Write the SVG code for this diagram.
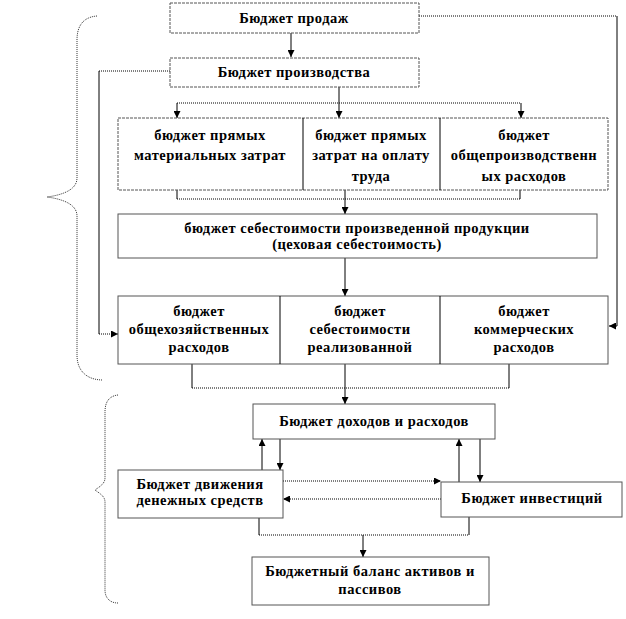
<svg xmlns="http://www.w3.org/2000/svg" width="626" height="619" viewBox="0 0 626 619">
<defs>
<marker id="ah" viewBox="0 0 8 8" refX="8" refY="4" markerWidth="7" markerHeight="7" orient="auto" markerUnits="userSpaceOnUse">
<path d="M0,0 L8,4 L0,8 z" fill="#000"/>
</marker>
<style>
.box{fill:#fff;stroke:#555;stroke-width:1}
.dash{stroke-dasharray:3,1}
.t{font-family:"Liberation Serif","Times New Roman",serif;font-weight:bold;font-size:14.5px;letter-spacing:0.5px;fill:#000;text-anchor:middle}
.c{fill:none;stroke:#000;stroke-width:1}
.d{fill:none;stroke:#000;stroke-width:1;stroke-dasharray:1,1}
.a{marker-end:url(#ah)}
.br{fill:none;stroke:#333;stroke-width:1;stroke-dasharray:1,1}
</style>
</defs>
<rect width="626" height="619" fill="#fff"/>
<g id="braces">
<path class="br" d="M97,16 C84,17 77,25 77,40 L77,178 C77,190 62,195 47,197 C62,199 77,204 77,216 L77,355 C77,372 88,380 103,380"/>
<path class="br" d="M118,395 C109,396 105,402 105,412 L105,478 C105,484 99,487 95,490 C99,493 105,496 105,502 L105,590 C105,598 110,603 118,603"/>
</g>
<g id="connectors">
<path class="d" d="M419,16 L617,16"/>
<path class="c a" d="M617,16 L617,326 L609,326"/>
<path class="c a" d="M291,33 L291,57"/>
<path class="d" d="M170,71 L99,71"/>
<path class="c" d="M99,71 L99,334"/>
<path class="d a" d="M99,334 L118,334"/>
<path class="c" d="M339,87 L339,103"/>
<path class="d" d="M177,103 L521,103"/>
<path class="c a" d="M177,103 L177,118"/>
<path class="c a" d="M339,103 L339,118"/>
<path class="c a" d="M521,103 L521,118"/>
<path class="c" d="M177,190 L177,199 M345,190 L345,199 M520,190 L520,199"/>
<path class="d" d="M177,199 L520,199"/>
<path class="c a" d="M345,199 L345,214"/>
<path class="c a" d="M345,258 L345,296"/>
<path class="c" d="M192,364 L192,388 M509,364 L509,388 M345,364 L345,388"/>
<path class="d" d="M192,388 L509,388"/>
<path class="c a" d="M345,388 L345,404"/>
<path class="c a" d="M262,470 L262,439"/>
<path class="c a" d="M280,439 L280,470"/>
<path class="c a" d="M459,482 L459,439"/>
<path class="c a" d="M480,439 L480,482"/>
<path class="d a" d="M283,481 L441,481"/>
<path class="d a" d="M441,499 L283,499"/>
<path class="c" d="M259,518 L259,535 M469,517 L469,535"/>
<path class="d" d="M259,535 L469,535"/>
<path class="c a" d="M363,535 L363,557"/>
</g>
<g id="n-sales"><rect class="box dash" x="170" y="3" width="249" height="30"/><text class="t" x="294" y="23">Бюджет продаж</text></g>
<g id="n-prod"><rect class="box dash" x="170" y="58" width="249" height="29"/><text class="t" x="294" y="77">Бюджет производства</text></g>
<g id="n-row1">
<rect class="box dash" x="118" y="118" width="490" height="72"/>
<path class="c" d="M303,118 L303,190 M440,118 L440,190" stroke="#555"/>
</g>
<g id="n-mat"><text class="t" x="210" y="140">бюджет прямых</text><text class="t" x="210" y="160">материальных затрат</text></g>
<g id="n-lab"><text class="t" x="371" y="140">бюджет прямых</text><text class="t" x="371" y="160">затрат на оплату</text><text class="t" x="371" y="181">труда</text></g>
<g id="n-ovh"><text class="t" x="524" y="140">бюджет</text><text class="t" x="524" y="160">общепроизводственн</text><text class="t" x="524" y="181">ых расходов</text></g>
<g id="n-cost"><rect class="box" x="118" y="214" width="479" height="44"/><text class="t" x="357" y="233">бюджет себестоимости произведенной продукции</text><text class="t" x="357" y="249">(цеховая себестоимость)</text></g>
<g id="n-row2">
<rect class="box" x="118" y="296" width="490" height="68"/>
<path class="c" d="M280,296 L280,364 M440,296 L440,364" stroke="#555"/>
</g>
<g id="n-adm"><text class="t" x="199" y="316">бюджет</text><text class="t" x="199" y="334">общехозяйственных</text><text class="t" x="199" y="352">расходов</text></g>
<g id="n-sold"><text class="t" x="360" y="316">бюджет</text><text class="t" x="360" y="334">себестоимости</text><text class="t" x="360" y="352">реализованной</text></g>
<g id="n-com"><text class="t" x="524" y="316">бюджет</text><text class="t" x="524" y="334">коммерческих</text><text class="t" x="524" y="352">расходов</text></g>
<g id="n-inc"><rect class="box" x="253" y="404" width="242" height="35"/><text class="t" x="374" y="426">Бюджет доходов и расходов</text></g>
<g id="n-cash"><rect class="box" x="118" y="470" width="165" height="48"/><text class="t" x="200" y="489">Бюджет движения</text><text class="t" x="200" y="505">денежных средств</text></g>
<g id="n-inv"><rect class="box" x="441" y="482" width="181" height="35"/><text class="t" x="532" y="503">Бюджет инвестиций</text></g>
<g id="n-bal"><rect class="box" x="252" y="557" width="237" height="48"/><text class="t" x="370" y="576">Бюджетный баланс активов и</text><text class="t" x="370" y="594">пассивов</text></g>
</svg>
